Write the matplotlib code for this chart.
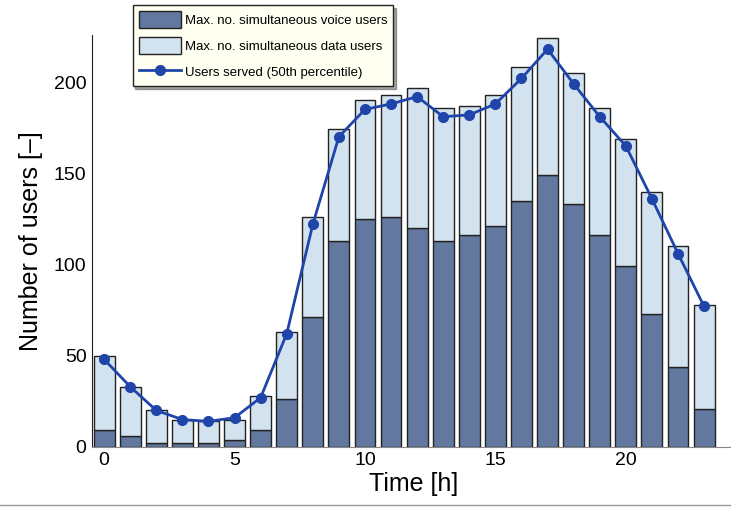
import matplotlib
matplotlib.use("Agg")
import matplotlib.pyplot as plt
import numpy as np

plt.rcParams['font.family'] = ['Liberation Sans', 'DejaVu Sans']

hours = list(range(24))
total_users = [50, 33, 20, 15, 14, 15, 28, 63, 126, 174, 190, 193, 197, 186,
               187, 193, 208, 224, 205, 186, 169, 140, 110, 78]
voice_users = [9, 6, 2, 2, 2, 4, 9, 26, 71, 113, 125, 126, 120, 113,
               116, 121, 135, 149, 133, 116, 99, 73, 44, 21]
served_users = [48, 33, 20, 15, 14, 16, 27, 62, 122, 170, 185, 188, 192, 181,
                182, 188, 202, 218, 199, 181, 165, 136, 106, 77]
data_users = [t - v for t, v in zip(total_users, voice_users)]

fig = plt.figure(figsize=(7.31, 5.09), dpi=100)
ax = fig.add_axes([0.126, 0.122, 0.88, 0.81])

b1 = ax.bar(hours, voice_users, width=0.8, color='#62789f', edgecolor='#222222',
            linewidth=1.0, label='Max. no. simultaneous voice users')
b2 = ax.bar(hours, data_users, bottom=voice_users, width=0.8, color='#d2e2ef',
            edgecolor='#222222', linewidth=1.0, label='Max. no. simultaneous data users')
l1, = ax.plot(hours, served_users, '-o', color='#1f45aa', lw=2, ms=7,
              label='Users served (50th percentile)')

ax.set_xlim(-0.46, 24.2)
ax.set_ylim(0, 226)
ax.set_xticks(np.arange(0, 21, 5))
ax.set_yticks(np.arange(0, 201, 50))
ax.tick_params(length=0, labelsize=14, pad=4)
ax.spines['top'].set_visible(False)
ax.spines['right'].set_visible(False)
ax.spines['bottom'].set_color('#888888')
ax.spines['left'].set_color('#222222')
ax.set_xlabel('Time [h]', fontsize=18, labelpad=2)
ax.set_ylabel('Number of users [–]', fontsize=18, labelpad=8)

leg = ax.legend(handles=[b1, b2, l1], loc='upper left',
                bbox_to_anchor=(0.063, 1.072), fontsize=9.5,
                frameon=True, fancybox=False, shadow=True, handlelength=3.2,
                handleheight=1.6, borderpad=0.45, labelspacing=0.7,
                handletextpad=0.3, borderaxespad=0)
leg.get_frame().set_facecolor('#fffff2')
leg.get_frame().set_edgecolor('#222222')
leg.get_frame().set_alpha(1)

fig.add_artist(plt.Line2D([0, 1], [0.008, 0.008], color='#999999', lw=1,
                          transform=fig.transFigure))

fig.savefig('out.png', dpi=100)
